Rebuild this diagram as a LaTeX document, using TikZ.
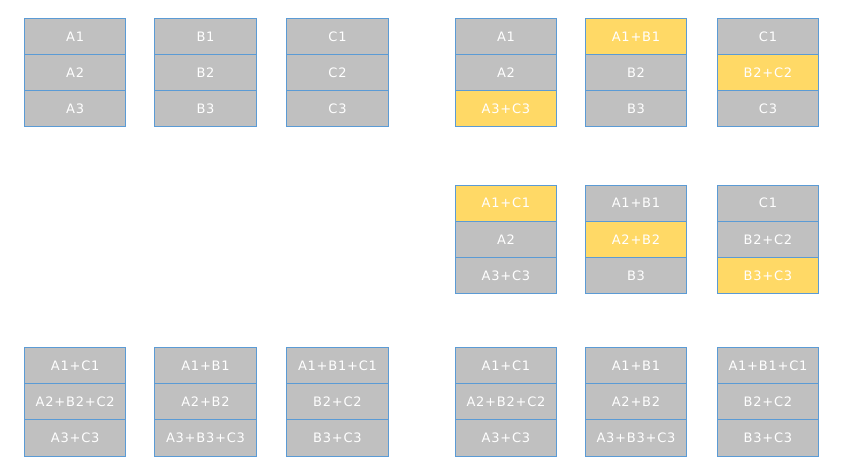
\documentclass[tikz,border=0pt]{standalone}
\usepackage{fontspec}
\setmainfont{DejaVu Sans}
\newfontfamily\cellfont[LetterSpace=6]{DejaVu Sans}
\usepackage{tikz}
\definecolor{cellgray}{HTML}{C0C0C0}
\definecolor{cellgold}{HTML}{FFD966}
\definecolor{cellline}{HTML}{5B9BD5}

\begin{document}
\begin{tikzpicture}[x=1pt,y=-1pt,
  cell/.style={draw=cellline,line width=1pt,fill=cellgray,text=white,
    minimum width=101.5pt,minimum height=36.2pt,inner sep=0pt,
    font=\cellfont\fontsize{13}{13}\selectfont},
  sum/.style={cell,fill=cellgold}]
\useasboundingbox (0,0) rectangle (843,476);

% starting state
\node[cell] (a1) at (75.2,36.4) {A1};
\node[cell] (a2) at (75.2,72.6) {A2};
\node[cell] (a3) at (75.2,108.8) {A3};

\node[cell] (b1) at (205.5,36.4) {B1};
\node[cell] (b2) at (205.5,72.6) {B2};
\node[cell] (b3) at (205.5,108.8) {B3};

\node[cell] (c1) at (337.5,36.4) {C1};
\node[cell] (c2) at (337.5,72.6) {C2};
\node[cell] (c3) at (337.5,108.8) {C3};

% first step
\node[cell] (sa1) at (506,36.4) {A1};
\node[cell] (sa2) at (506,72.6) {A2};
\node[sum] (sa3) at (506,108.8) {A3+C3};

\node[sum] (sb1) at (636,36.4) {A1+B1};
\node[cell] (sb2) at (636,72.6) {B2};
\node[cell] (sb3) at (636,108.8) {B3};

\node[cell] (sc1) at (768,36.4) {C1};
\node[sum] (sc2) at (768,72.6) {B2+C2};
\node[cell] (sc3) at (768,108.8) {C3};

% second step
\node[sum] (ta1) at (506,203.1) {A1+C1};
\node[cell] (ta2) at (506,239.3) {A2};
\node[cell] (ta3) at (506,275.5) {A3+C3};

\node[cell] (tb1) at (636,203.1) {A1+B1};
\node[sum] (tb2) at (636,239.3) {A2+B2};
\node[cell] (tb3) at (636,275.5) {B3};

\node[cell] (tc1) at (768,203.1) {C1};
\node[cell] (tc2) at (768,239.3) {B2+C2};
\node[sum] (tc3) at (768,275.5) {B3+C3};

% result, left
\node[cell] (la1) at (75.2,365.6) {A1+C1};
\node[cell] (la2) at (75.2,401.8) {A2+B2+C2};
\node[cell] (la3) at (75.2,438) {A3+C3};

\node[cell] (lb1) at (205.5,365.6) {A1+B1};
\node[cell] (lb2) at (205.5,401.8) {A2+B2};
\node[cell] (lb3) at (205.5,438) {A3+B3+C3};

\node[cell] (lc1) at (337.5,365.6) {A1+B1+C1};
\node[cell] (lc2) at (337.5,401.8) {B2+C2};
\node[cell] (lc3) at (337.5,438) {B3+C3};

% result, right
\node[cell] (ra1) at (506,365.6) {A1+C1};
\node[cell] (ra2) at (506,401.8) {A2+B2+C2};
\node[cell] (ra3) at (506,438) {A3+C3};

\node[cell] (rb1) at (636,365.6) {A1+B1};
\node[cell] (rb2) at (636,401.8) {A2+B2};
\node[cell] (rb3) at (636,438) {A3+B3+C3};

\node[cell] (rc1) at (768,365.6) {A1+B1+C1};
\node[cell] (rc2) at (768,401.8) {B2+C2};
\node[cell] (rc3) at (768,438) {B3+C3};
\end{tikzpicture}
\end{document}
